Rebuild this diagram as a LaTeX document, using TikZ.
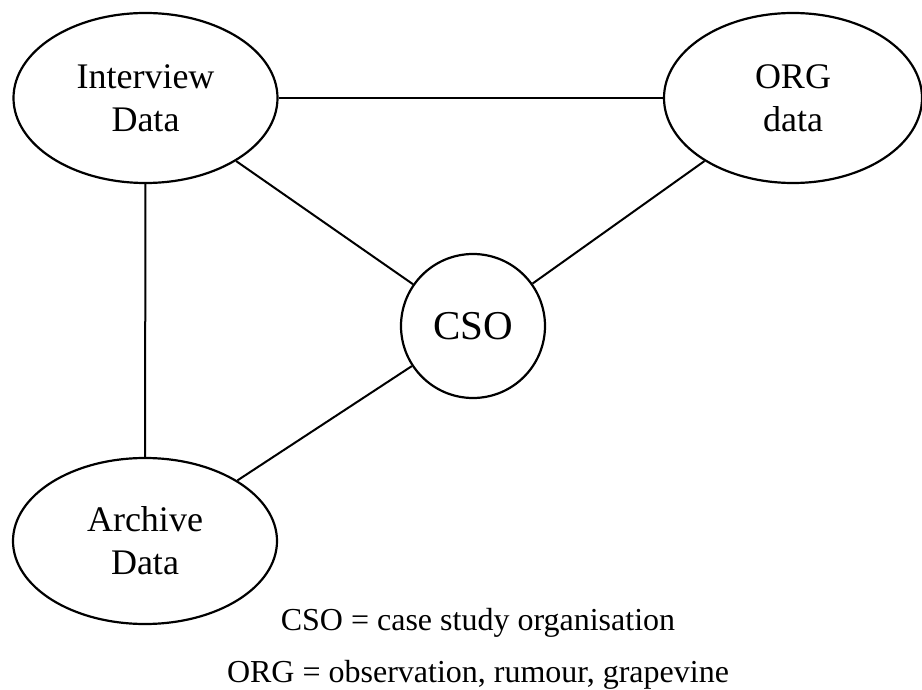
\documentclass[tikz,border=0pt]{standalone}
\usepackage{fontspec}
\setmainfont{Liberation Serif}
\usetikzlibrary{shapes.geometric}
\begin{document}
\begin{tikzpicture}[x=0.5pt,y=-0.5pt,
  source/.style={draw,ellipse,line width=1.1pt,align=center,inner sep=0pt,
    minimum width=132pt,minimum height=85pt,
    font=\fontsize{18}{21.5}\selectfont},
  link/.style={line width=1pt},
  legend/.style={anchor=base,font=\fontsize{16}{19}\selectfont}]
  \useasboundingbox (0,0) rectangle (922,690);
  \node[source] (interview) at (145.5,98) {Interview\\Data};
  \node[source,minimum width=129pt] (org) at (793,98) {ORG\\data};
  \node[source,minimum height=83pt] (archive) at (145,541) {Archive\\Data};
  \node[draw,circle,line width=1.1pt,minimum size=72pt,inner sep=0pt,
    font=\fontsize{20.5}{24}\selectfont] (cso) at (473,326) {CSO};
  \draw[link] (interview) -- (org);
  \draw[link] (interview) -- (cso);
  \draw[link] (org) -- (cso);
  \draw[link] (interview) -- (archive);
  \draw[link] (archive) -- (cso);
  \node[legend] (legend1) at (478,630) {CSO = case study organisation};
  \node[legend] (legend2) at (478,682) {ORG = observation, rumour, grapevine};
\end{tikzpicture}
\end{document}
